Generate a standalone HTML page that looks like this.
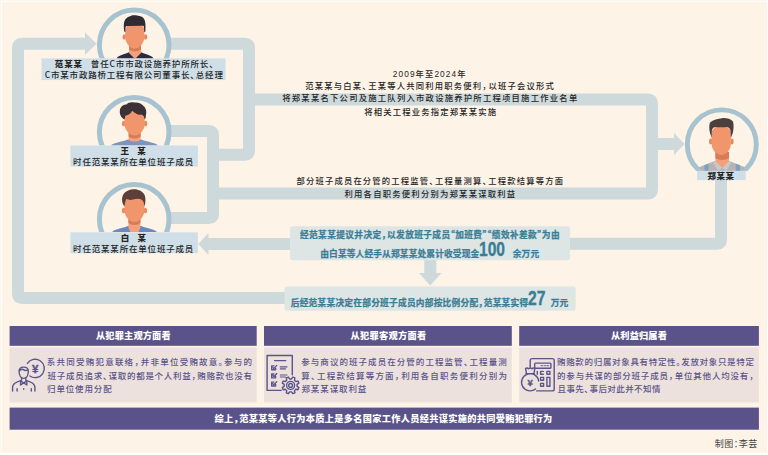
<!DOCTYPE html>
<html lang="zh-CN">
<head>
<meta charset="utf-8">
<title>案情示意图</title>
<style>
html,body{margin:0;padding:0;}
body{width:768px;height:455px;overflow:hidden;background:#fff;font-family:"Liberation Sans","Noto Sans CJK SC",sans-serif;}
#stage{position:absolute;left:0;top:0;width:768px;height:455px;background:#fff;overflow:hidden;}
#bg{position:absolute;left:0;top:0;width:767px;height:453px;background:#fdf3e7;box-shadow:inset 1px 1px 0 0 #fdf6ec, inset 2px 2px 0 0 #fffdf8;}
svg#art{position:absolute;left:0;top:0;}
.t{position:absolute;white-space:nowrap;transform:translate(0,-50%);line-height:1;color:#262626;font-weight:500;font-feature-settings:"halt" 1;}
.t b{font-weight:900;}
.t u{text-decoration:none;font-family:"Noto Sans CJK SC",sans-serif;}
.t i{display:inline-block;}
.sp1{width:8px;}
.sp2{width:7.6px;}
.blue{color:#3a7d95;font-weight:700;-webkit-text-stroke:0.25px #3a7d95;}
.big{font-family:"Liberation Sans",sans-serif;font-weight:700;font-size:20px;letter-spacing:0;display:inline-block;transform:scaleX(0.78);transform-origin:0 50%;line-height:1;position:relative;top:-1px;-webkit-text-stroke:0.35px #3a7d95;}
.t em{font-style:normal;margin-right:0.8px;}
.t s{text-decoration:none;margin-right:0.6px;}
.ph{color:#fff;font-weight:900;}
.pb{color:#5a548a;}
.cr{color:#444;font-weight:400;}
</style>
</head>
<body>
<div id="stage">
<div id="bg"></div>
<svg id="art" width="768" height="455" viewBox="0 0 768 455">
<!-- LINES -->
<g fill="none" stroke="#cdd9db" stroke-width="12" stroke-linejoin="round">
<path d="M290 298 L22 298 Q18 298 18 294 L18 47.75 Q18 43.75 22 43.75 L86 43.75"/>
<path d="M170 43.75 L245 43.75 Q249 43.75 249 47.75 L249 150.8 Q249 154.8 245 154.8 L213 154.8"/>
<path d="M249 99.5 L648 99.5 Q652 99.5 652 103.5 L652 189.5 Q652 193.5 648 193.5 L213 193.5"/>
<path d="M170 131 L209 131 Q213 131 213 135 L213 214 Q213 218 209 218 L170 218"/>
<path d="M721 178 L721 239.75 Q721 243.75 717 243.75 L568 243.75"/>
<path d="M657 144 H675"/>
<path d="M292 243.9 H207"/>
<path d="M430.3 258 V274"/>
</g>
<g fill="#cdd9db">
<path d="M85 32.5 L96.5 43.75 L85 55 Z"/>
<path d="M674 133 L684.5 144 L674 155 Z"/>
<path d="M208.5 233 L198.3 243.9 L208.5 254.9 Z"/>
<path d="M419 273 L441.5 273 L430.2 285.5 Z"/>
</g>

<!-- AVATARS -->
<defs>
<clipPath id="c1"><rect x="90" y="0" width="90" height="58.4"/></clipPath>
<clipPath id="c2"><rect x="90" y="88" width="90" height="57.4"/></clipPath>
<clipPath id="c3"><rect x="90" y="175" width="90" height="56.9"/></clipPath>
<clipPath id="c4"><rect x="680" y="100" width="88" height="70.9"/></clipPath>
<clipPath id="k1"><circle cx="134.2" cy="44.8" r="33"/></clipPath>
<clipPath id="k2"><circle cx="134.2" cy="132.2" r="33"/></clipPath>
<clipPath id="k3"><circle cx="134.2" cy="219.2" r="33"/></clipPath>
<clipPath id="k4"><circle cx="721.8" cy="144.4" r="33"/></clipPath>
</defs>

<!-- Fan -->
<g clip-path="url(#c1)">
<circle cx="134.2" cy="44.8" r="34.8" fill="#fdf3e7" stroke="#a7c3d0" stroke-width="5"/>
<g clip-path="url(#k1)">
<path d="M116 60 L117.5 57 C121 55 126 53.5 129.5 52 L140.5 52 C144 53.5 149 55 152.5 57 L154 60 Z" fill="#2b2a3f"/>
<path d="M129 44 H141 V53 L135 59 L129 53 Z" fill="#f4a07a"/>
<path d="M129 45 H141 V49.5 C138 52 132 52 129 49.5 Z" fill="#d87c56"/>
<ellipse cx="124.2" cy="37" rx="1.7" ry="2.8" fill="#e8895f"/>
<ellipse cx="145.6" cy="37" rx="1.7" ry="2.8" fill="#e8895f"/>
<path d="M125.2 30 C125.2 22 144.4 22 144.4 30 L144.4 37 C144.4 43 139.5 48.6 134.8 48.6 C130 48.6 125.2 43 125.2 37 Z" fill="#f0956c"/>
<path d="M125.4 32 L124.2 31.5 C123.6 27 123.6 23 124.6 20.8 C125.8 17.8 128.5 16.4 131 16 L132 15.3 C136 15.2 140 15.7 142.3 17 C144.6 18.6 145.6 22 145.5 26 L145.4 31.5 L144.2 32 L144 27.4 C143.8 26.2 143.3 25.8 142.5 25.8 L127.4 25.9 C126.2 25.9 125.5 26.4 125.4 27.6 Z" fill="#2e2b33"/>
</g>
</g>

<!-- Wang -->
<g clip-path="url(#c2)">
<circle cx="134.2" cy="132.2" r="34.8" fill="#fdf3e7" stroke="#a7c3d0" stroke-width="5"/>
<g clip-path="url(#k2)">
<path d="M110 147 L112 144.5 C116 142.5 124 141 128 139.5 L141 139.5 C145 141 153 142.5 157 144.5 L159 147 Z" fill="#7e93bd"/>
<path d="M128.6 131 H140.6 V139.5 C138 142.5 131 142.5 128.6 139.5 Z" fill="#f4a07a"/>
<path d="M128.6 132 H140.6 V136.5 C138 139 131.5 139 128.6 136.5 Z" fill="#d87c56"/>
<ellipse cx="123.6" cy="123.5" rx="1.7" ry="2.8" fill="#e8895f"/>
<ellipse cx="145.6" cy="123.5" rx="1.7" ry="2.8" fill="#e8895f"/>
<path d="M124.5 116 C124.5 108 144.7 108 144.7 116 L144.7 124 C144.7 130 139.5 135.5 134.6 135.5 C129.7 135.5 124.5 130 124.5 124 Z" fill="#f0956c"/>
<path d="M124.6 119.5 C122 118.5 119.5 115 119.8 111 C120 107 123 104.5 126.5 104.5 C128 102.5 131.5 101.8 134 102.6 C137.5 101.8 142 103.5 143.5 106 C146 108 147 112 145.8 115.5 C146 117.5 145.5 118.8 144.6 119.5 C144.4 117 143.5 115 141.5 114.5 C138.5 115.5 135 113.5 132.2 110.8 C131 114 127.5 115.5 125.5 115.5 C125 117 124.7 118.3 124.6 119.5 Z" fill="#3b3136"/>
</g>
</g>

<!-- Bai -->
<g clip-path="url(#c3)">
<circle cx="134.2" cy="219.2" r="34.8" fill="#fdf3e7" stroke="#a7c3d0" stroke-width="5"/>
<g clip-path="url(#k3)">
<path d="M111 234 L113 231 C117 229 124 227.5 128 226 L141 226 C145 227.5 152 229 156 231 L158 234 Z" fill="#6c88bd"/>
<path d="M128.4 218 H140.4 V227.5 L134.4 242 L128.4 227.5 Z" fill="#f4a07a"/>
<path d="M128.4 218 H140.4 V223 C138 225.5 131 225.5 128.4 223 Z" fill="#d87c56"/>
<ellipse cx="123.6" cy="210.5" rx="1.7" ry="2.8" fill="#e8895f"/>
<ellipse cx="145.4" cy="210.5" rx="1.7" ry="2.8" fill="#e8895f"/>
<path d="M124.5 203 C124.5 195 144.4 195 144.4 203 L144.4 210.5 C144.4 216.5 139.3 221.9 134.4 221.9 C129.6 221.9 124.5 216.5 124.5 210.5 Z" fill="#f0956c"/>
<path d="M124.6 206.5 C122.5 204 121.3 200 122.5 196.5 C123.5 192.5 128 189.6 133 189.2 C138 188.8 143 191 144.6 195 C146 198.5 145.6 203.5 144.4 206.5 C144.2 203.5 143.5 201.5 141.8 199.8 C139 198.2 136 198.8 133 199.6 C130.5 200.3 128 200 126.6 198.8 C125.5 200.5 124.8 203.5 124.6 206.5 Z" fill="#5c3f38"/>
</g>
</g>

<!-- Zheng -->
<g clip-path="url(#c4)">
<circle cx="721.8" cy="144.4" r="34.5" fill="#fdf3e7" stroke="#a7c3d0" stroke-width="4.9"/>
<g clip-path="url(#k4)">
<path d="M696 173 L698 168 C702 165.5 710 163 715 161 L729 161 C734 163 742 165.5 746 168 L748 173 Z" fill="#b5b3b3"/>
<path d="M704.5 165.3 L708.6 163.7 V173 H704.5 Z" fill="#7aa0c4"/>
<path d="M735.8 163.7 L740 165.3 V173 H735.8 Z" fill="#7aa0c4"/>
<path d="M715.4 152 H729 V161.5 L722.2 168 L715.4 161.5 Z" fill="#f4a07a"/>
<path d="M715.4 152 H729 V158 C726 160.5 718.5 160.5 715.4 158 Z" fill="#d87c56"/>
<path d="M715.4 161 L722.2 168 L718 171 L713.5 163 Z" fill="#c9c7c7"/>
<path d="M729 161 L722.2 168 L726.5 171 L731 163 Z" fill="#c9c7c7"/>
<ellipse cx="710.7" cy="141.5" rx="1.7" ry="3" fill="#e8895f"/>
<ellipse cx="731.9" cy="141.5" rx="1.7" ry="3" fill="#e8895f"/>
<path d="M711.7 132 C711.7 125 730.8 125 730.8 132 L730.8 144 C730.8 150 726 154.9 721.3 154.9 C716.5 154.9 711.7 150 711.7 144 Z" fill="#f0956c"/>
<path d="M711.7 138 L710 133 C709 129 709 125 710 122.5 C713 120 718 118.5 722 118.2 C726 117.8 731 119 733 121.5 C733.8 124 733.8 129 732.8 133 L730.8 138 L730.6 131 C730.4 129 729 127.2 727 127.2 L715 127.2 C713 127.2 711.9 129 711.8 131 Z" fill="#4d3f3c"/>
</g>
</g>

<!-- BOXES -->
<g id="boxes">
<rect x="41.5" y="58.4" width="184" height="21.7" fill="#d0dfe7"/>
<rect x="70.4" y="145.5" width="127.5" height="21.1" fill="#d0dfe7"/>
<rect x="70.4" y="232.3" width="127.5" height="20.9" fill="#d0dfe7"/>
<rect x="697" y="170.8" width="48.8" height="9.3" fill="#d0dfe7"/>
<rect x="290" y="226.2" width="280" height="34" rx="3" fill="#dde5e5"/>
<rect x="284.5" y="286.5" width="291.2" height="24.3" rx="3" fill="#dde5e5"/>
</g>
<!-- PANELS -->
<g id="panels">
<rect x="9.6" y="326" width="247.1" height="19.8" fill="#5a5389"/>
<rect x="264" y="326" width="247.8" height="19.8" fill="#5a5389"/>
<rect x="519.2" y="326" width="239.7" height="19.8" fill="#5a5389"/>
<rect x="9.6" y="347.5" width="247.1" height="55" fill="#ede1dd"/>
<rect x="264" y="347.5" width="247.8" height="55" fill="#ede1dd"/>
<rect x="519.2" y="347.5" width="239.7" height="55" fill="#ede1dd"/>
<rect x="9.6" y="407.6" width="749.3" height="22.1" fill="#5a5389"/>
</g>

<!-- ICONS -->
<g id="icons" fill="none" stroke="#5a548a" stroke-width="1.4" stroke-linecap="round" stroke-linejoin="round">
<!-- icon1 -->
<path d="M27.4 363.4 A9.2 9.2 0 1 1 29.9 376.0"/>
<path d="M19.1 371.2 C19.1 365.8 28.3 365.8 28.3 371.2 C28.3 375.2 26.5 378.4 23.7 378.4 C20.9 378.4 19.1 375.2 19.1 371.2 Z"/>
<path d="M19.5 370.8 C21 368.9 22.6 368.9 23.8 369.9 C25 370.9 26.6 370.6 28 369.9"/>
<path d="M21.6 377.8 V380.3 M25.8 377.8 V380.3"/>
<path d="M20.6 381 L23.7 382.9 L26.8 381 V385 L23.7 382.9 L20.6 385 Z"/>
<path d="M12.6 391 V387.2 C12.6 383.8 15 382.3 20.6 380.6"/>
<path d="M34.9 391 V387.2 C34.9 383.8 32.5 382.3 26.8 380.6"/>
<path d="M17.1 388.8 V391 M31.3 388.8 V391 M23.7 388.6 V389.2"/>
<!-- icon2 -->
<path d="M281.2 390.4 H267.1 V355.5 H292.3 V374.8"/>
<path d="M274.6 360.6 H285.8"/>
<path d="M275.6 368.2 V369.8 H271.7 V365.9 H274" />
<path d="M275.6 376.3 V377.9 H271.7 V374 H274" />
<path d="M275.6 384.4 V386 H271.7 V382.1 H274" />
<path d="M280.3 366.9 H287 M280.3 368.9 H285.5 M280.3 375 H287 M280.3 377 H285.5" stroke-width="1.1"/>
<path d="M272.8 367.4 L273.8 368.6 L276.8 365.4 M272.8 375.5 L273.8 376.7 L276.8 373.5 M272.8 383.6 L273.8 384.8 L276.8 381.6" stroke-width="1.3"/>
<path d="M298.91 387.60 L298.04 389.72 L295.83 389.26 L294.46 390.63 L294.92 392.84 L292.80 393.71 L291.57 391.83 L289.63 391.83 L288.40 393.71 L286.28 392.84 L286.74 390.63 L285.37 389.26 L283.16 389.72 L282.29 387.60 L284.17 386.37 L284.17 384.43 L282.29 383.20 L283.16 381.08 L285.37 381.54 L286.74 380.17 L286.28 377.96 L288.40 377.09 L289.63 378.97 L291.57 378.97 L292.80 377.09 L294.92 377.96 L294.46 380.17 L295.83 381.54 L298.04 381.08 L298.91 383.20 L297.03 384.43 L297.03 386.37 Z" fill="#ede1dd"/>
<circle cx="290.6" cy="385.4" r="4"/>
<circle cx="290.6" cy="385.4" r="1.9"/>
<!-- icon3 -->
<path d="M530.2 367 V360.6 Q530.2 358.6 532.2 358.6 H552.2 Q554.2 358.6 554.2 360.6 V388.9 Q554.2 390.9 552.2 390.9 H536.7"/>
<rect x="534.7" y="363.1" width="16.2" height="5.1" rx="0.8"/>
<path d="M541 365.7 H543 M544.5 365.7 H546 M547.3 365.7 H548.6" stroke-width="0.9"/>
<path d="M537.3 371.5 V374.2"/>
<path d="M543.3 371.4 H540.6 V374.3 H543.3"/>
<rect x="546.9" y="371.4" width="3" height="2.9"/>
<rect x="540.6" y="377.4" width="3" height="2.9"/>
<rect x="540.6" y="383.4" width="3" height="2.9"/>
<rect x="546.9" y="377.4" width="3" height="8.9"/>
<path d="M538.7 381 A8.6 8.6 0 1 0 535.5 389" />
<path d="M526 373.6 H534.4 M526.4 373.4 L525.6 368.6 Q527 367.2 528.4 368.8 Q530.2 367 532 368.8 Q533.4 367.2 534.8 368.6 L534 373.4"/>
</g>
<text x="35.1" y="372.8" font-family="Liberation Sans, sans-serif" font-weight="700" font-size="11.5" fill="#5a548a" stroke="#5a548a" stroke-width="0.4" text-anchor="middle">¥</text>
<text x="530.2" y="386.4" font-family="Liberation Sans, sans-serif" font-weight="700" font-size="9.5" fill="#5a548a" stroke="#5a548a" stroke-width="0.3" text-anchor="middle">¥</text>
</svg>
<div id="a1" class="t" style="left:54.82px;top:64.12px;font-size:8.5px;letter-spacing:0.836px;"><b>范某某</b><i class="sp1"></i>曾任<u>C</u>市市政设施养护所所长<s>、</s></div>
<div id="a2" class="t" style="left:44.78px;top:75.14px;font-size:8.5px;letter-spacing:0.777px;"><u>C</u>市某市政路桥工程有限公司董事长<s>、</s>总经理</div>
<div id="b1" class="t" style="left:120.60px;top:150.80px;font-size:8.5px;letter-spacing:0.600px;"><b>王<i class="sp2"></i>某</b></div>
<div id="b2" class="t" style="left:73.10px;top:161.50px;font-size:8.5px;letter-spacing:0.810px;">时任范某某所在单位班子成员</div>
<div id="c1" class="t" style="left:120.70px;top:237.80px;font-size:8.5px;letter-spacing:0.600px;"><b>白<i class="sp2"></i>某</b></div>
<div id="c2" class="t" style="left:73.10px;top:248.50px;font-size:8.5px;letter-spacing:0.810px;">时任范某某所在单位班子成员</div>
<div id="d1" class="t" style="left:707.60px;top:176.00px;font-size:8.5px;letter-spacing:0.400px;"><b>郑某某</b></div>
<div id="m1" class="t" style="left:392.74px;top:73.64px;font-size:8.3px;letter-spacing:1.102px;">2009年至2024年</div>
<div id="m2" class="t" style="left:305.24px;top:86.14px;font-size:8.3px;letter-spacing:1.210px;">范某某与白某<s>、</s>王某等人共同利用职务便利<em>，</em>以班子会议形式</div>
<div id="m3" class="t" style="left:282.26px;top:98.48px;font-size:8.3px;letter-spacing:1.258px;">将郑某某名下公司及施工队列入市政设施养护所工程项目施工作业名单</div>
<div id="m4" class="t" style="left:364.23px;top:111.62px;font-size:8.3px;letter-spacing:1.196px;">将相关工程业务指定郑某某实施</div>
<div id="n1" class="t" style="left:296.57px;top:180.64px;font-size:8.3px;letter-spacing:1.173px;">部分班子成员在分管的工程监管<s>、</s>工程量测算<s>、</s>工程款结算等方面</div>
<div id="n2" class="t" style="left:344.52px;top:193.50px;font-size:8.3px;letter-spacing:1.251px;">利用各自职务便利分别为郑某某谋取利益</div>
<div id="p1" class="t blue" style="left:300.00px;top:234.50px;font-size:8.7px;letter-spacing:0.372px;">经范某某提议并决定<em>，</em>以发放班子成员<u>“</u>加班费<u>”</u><u>“</u>绩效补差款<u>”</u>为由</div>
<div id="p2" class="t blue" style="left:320.22px;top:250.46px;font-size:8.7px;letter-spacing:0.156px;">由白某等人经手从郑某某处累计收受现金<span class="big" style="margin-right：-6px;transform：scaleX(0.82)">100</span>余万元</div>
<div id="p3" class="t blue" style="left:290.76px;top:298.54px;font-size:8.7px;letter-spacing:0.246px;">后经范某某决定在部分班子成员内部按比例分配<em>，</em>范某某实得<span class="big" style="margin-right：-4.9px">27</span>万元</div>
<div id="h1" class="t ph" style="left:96.00px;top:336.68px;font-size:9.2px;letter-spacing:0.159px;">从犯罪主观方面看</div>
<div id="h2" class="t ph" style="left:350.52px;top:336.68px;font-size:9.2px;letter-spacing:0.316px;">从犯罪客观方面看</div>
<div id="h3" class="t ph" style="left:611.00px;top:336.68px;font-size:9.2px;letter-spacing:0.140px;">从利益归属看</div>
<div id="q1" class="t pb" style="left:46.70px;top:362.12px;font-size:8.5px;letter-spacing:1.242px;">系共同受贿犯意联络<em>，</em>并非单位受贿故意。参与的</div>
<div id="q2" class="t pb" style="left:47.50px;top:375.50px;font-size:8.5px;letter-spacing:0.731px;">班子成员追求<s>、</s>谋取的都是个人利益<em>，</em>贿赂款也没有</div>
<div id="q3" class="t pb" style="left:47.10px;top:389.40px;font-size:8.5px;letter-spacing:0.840px;">归单位使用分配</div>
<div id="r1" class="t pb" style="left:301.22px;top:362.12px;font-size:8.5px;letter-spacing:1.054px;">参与商议的班子成员在分管的工程监管<s>、</s>工程量测</div>
<div id="r2" class="t pb" style="left:301.22px;top:375.50px;font-size:8.5px;letter-spacing:1.225px;">算<s>、</s>工程款结算等方面<em>，</em>利用各自职务便利分别为</div>
<div id="r3" class="t pb" style="left:301.46px;top:389.40px;font-size:8.5px;letter-spacing:0.900px;">郑某某谋取利益</div>
<div id="s1" class="t pb" style="left:557.00px;top:362.12px;font-size:8.5px;letter-spacing:0.675px;">贿赂款的归属对象具有特定性。发放对象只是特定</div>
<div id="s2" class="t pb" style="left:557.00px;top:375.50px;font-size:8.5px;letter-spacing:0.815px;">的参与共谋的部分班子成员<em>，</em>单位其他人均没有<em>，</em></div>
<div id="s3" class="t pb" style="left:557.54px;top:389.40px;font-size:8.5px;letter-spacing:0.408px;">且事先<s>、</s>事后对此并不知情</div>
<div id="f1" class="t ph" style="left:214.50px;top:420.18px;font-size:9.2px;letter-spacing:0.310px;">综上<em>，</em>范某某等人行为本质上是多名国家工作人员经共谋实施的共同受贿犯罪行为</div>
<div id="z1" class="t cr" style="left:714.74px;top:444.40px;font-size:9px;letter-spacing:0.480px;">制图：李芸</div>
</div>
</body>
</html>
